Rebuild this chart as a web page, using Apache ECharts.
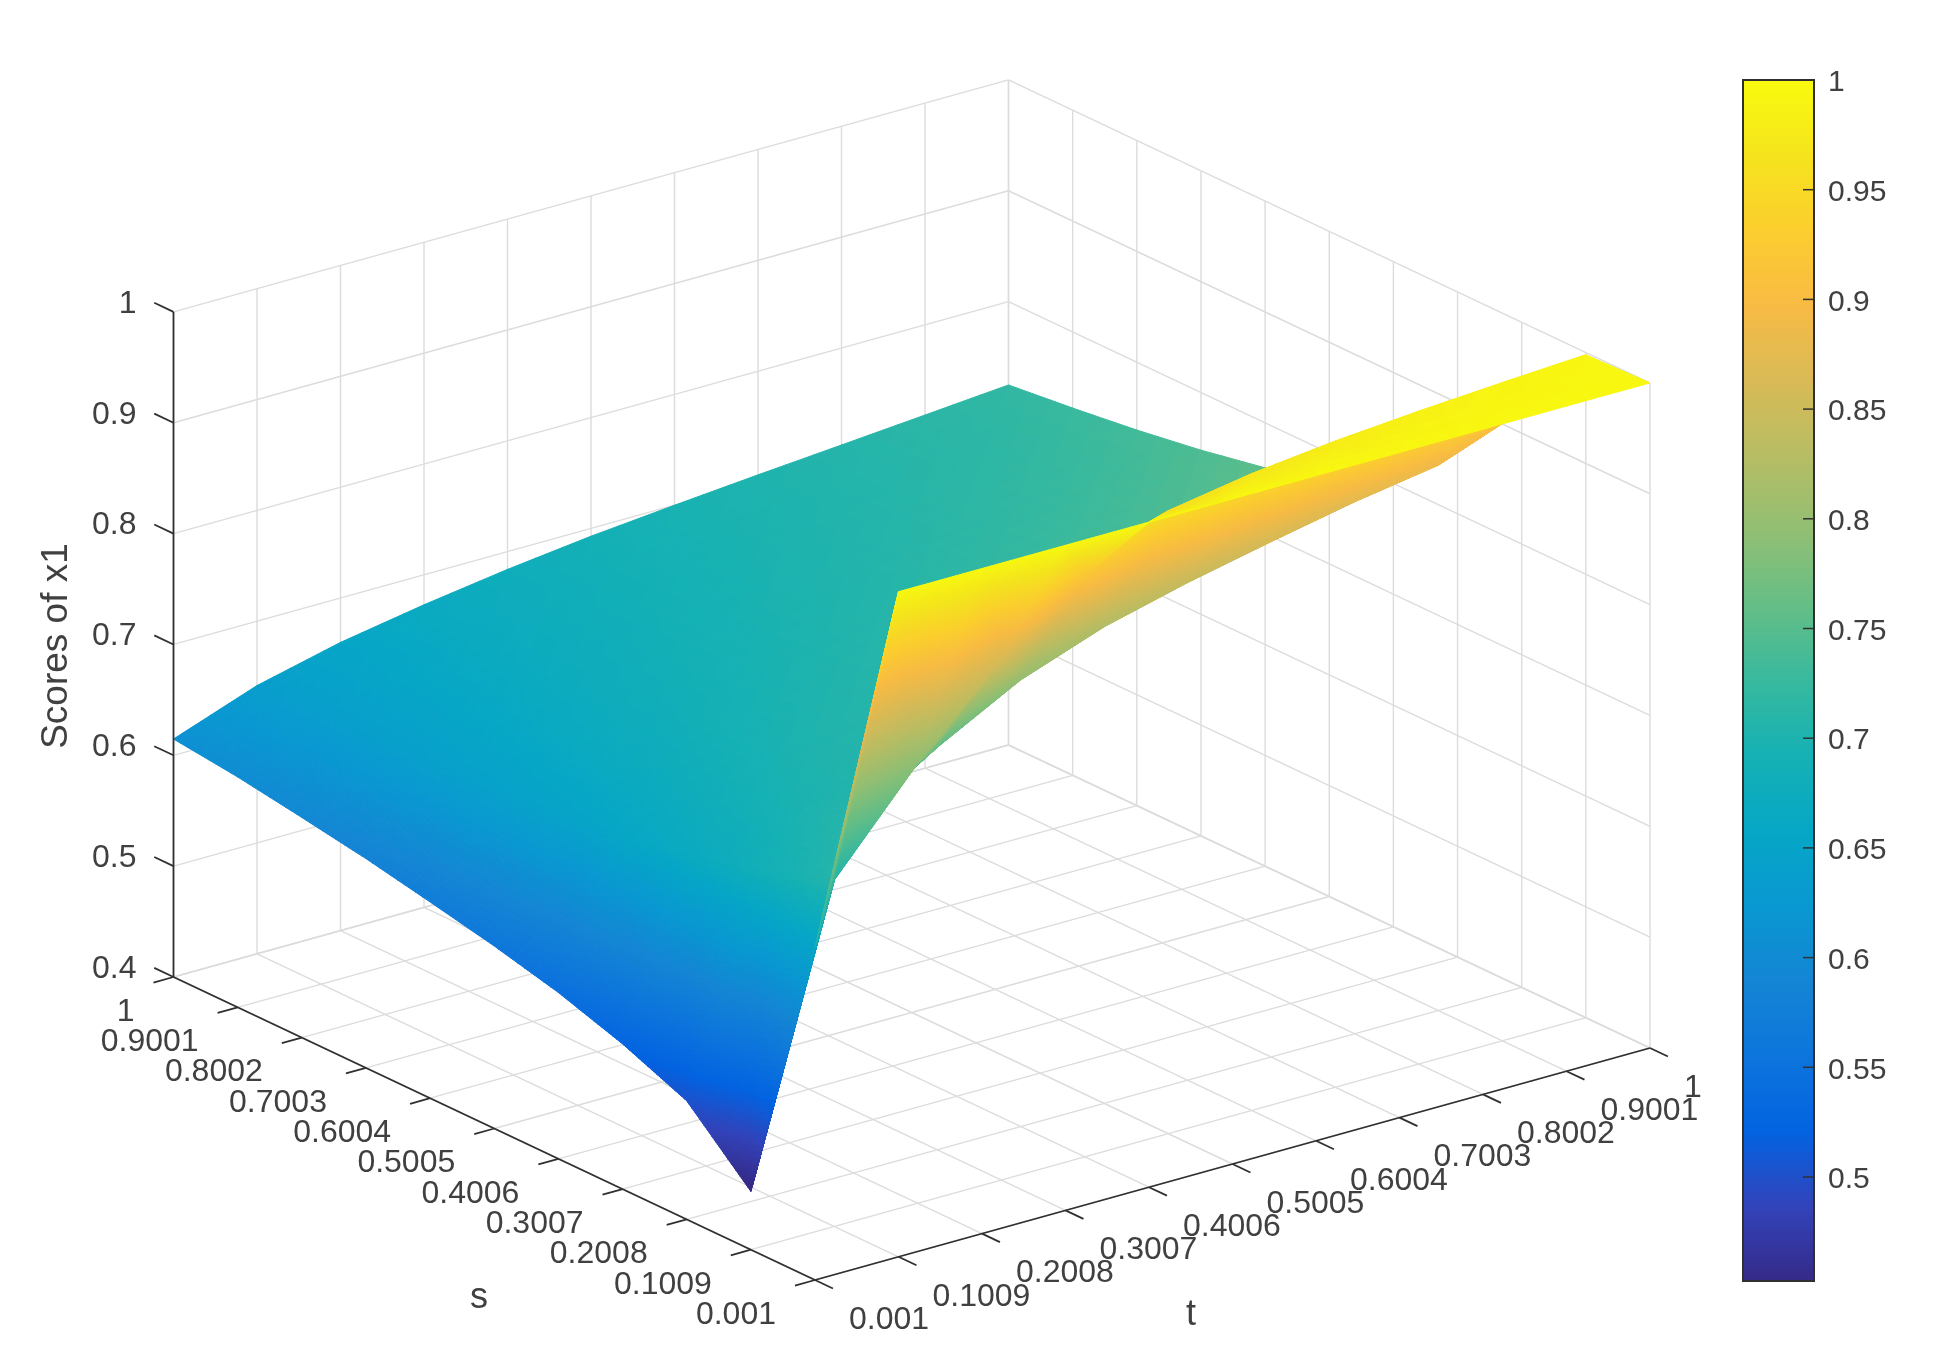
<!DOCTYPE html>
<html>
<head>
<meta charset="utf-8">
<style>
    html, body { margin: 0; padding: 0; background: #fff; }
    #chart { width: 1954px; height: 1370px; }
</style>
<script src="https://cdn.jsdelivr.net/npm/echarts@6/dist/echarts.min.js"></script>
</head>
<body>
<div id="chart"></div>
<script>
const sLabels = ['0.001', '0.1009', '0.2008', '0.3007', '0.4006', '0.5005', '0.6004', '0.7003', '0.8002', '0.9001', '1']
const tLabels = ['0.001', '0.1009', '0.2008', '0.3007', '0.4006', '0.5005', '0.6004', '0.7003', '0.8002', '0.9001', '1']
const zTicks = [0.4, 0.5, 0.6, 0.7, 0.8, 0.9, 1]
const barTicks = [0.5, 0.55, 0.6, 0.65, 0.7, 0.75, 0.8, 0.85, 0.9, 0.95, 1]

// scores, one row per s tick, t runs along the row
const scoresS00 = [0.70, 1.0, 1.0, 1.0, 1.0, 1.0, 1.0, 1.0, 1.0, 1.0, 1.0]
const scoresS01 = [0.4526, 0.7126, 0.797, 0.87, 0.925, 0.962, 0.9746, 0.983, 0.989, 0.9938, 0.998]
const scoresS02 = [0.507, 0.693, 0.716, 0.763, 0.803, 0.83, 0.849, 0.865, 0.88, 0.892, 0.92]
const scoresS03 = [0.531, 0.676, 0.70, 0.712, 0.743, 0.773, 0.80, 0.815, 0.83, 0.846, 0.857]
const scoresS04 = [0.55, 0.665, 0.69, 0.706, 0.715, 0.732, 0.75, 0.765, 0.778, 0.791, 0.802]
const scoresS05 = [0.5646, 0.656, 0.68, 0.697, 0.708, 0.717, 0.73, 0.742, 0.752, 0.762, 0.772]
const scoresS06 = [0.577, 0.652, 0.675, 0.69, 0.70, 0.709, 0.718, 0.728, 0.737, 0.748, 0.7594]
const scoresS07 = [0.5888, 0.648, 0.669, 0.684, 0.695, 0.703, 0.71, 0.719, 0.727, 0.737, 0.748]
const scoresS08 = [0.5986, 0.645, 0.665, 0.679, 0.69, 0.698, 0.706, 0.712, 0.72, 0.728, 0.7388]
const scoresS09 = [0.6078, 0.643, 0.662, 0.676, 0.686, 0.695, 0.702, 0.708, 0.714, 0.72, 0.7313]
const scoresS10 = [0.6147, 0.642, 0.66, 0.673, 0.684, 0.693, 0.70, 0.7065, 0.7125, 0.7186, 0.7248]
const scores = [scoresS00, scoresS01, scoresS02, scoresS03, scoresS04, scoresS05, scoresS06, scoresS07, scoresS08, scoresS09, scoresS10]

const parula = ['#352a87', '#3243ba', '#0363e1', '#0d75dc', '#1485d4', '#0998d1', '#06a7c6', '#15b1b4', '#38b99e',
    '#65be86', '#92bf73', '#b7bd64', '#d9ba56', '#f8bb44', '#fcce2e', '#f5e41d', '#f9fb0e']
const colorMin = 0.4526
const colorMax = 1

const textColor = '#404040'
const axisColor = '#303030'
const gridColor = '#dcdcdc'
const last = sLabels.length - 1

// orthographic view: s/t steps per tick and z scale, in the hidden plane axes
const project = (si, ti, z) => [
    815 - 64.15 * si + 83.5 * ti,
    1280 - 30.3 * si - 23.2 * ti - 1108.5 * (z - 0.4)
]
// the surface picks from 64 discrete colours rounding down, hence the small shift
const colorOf = z => echarts.color.lerp(Math.min(1, Math.max(0, (z - 0.005 - colorMin) / (colorMax - colorMin))), parula)

const wallLines = []
const floorZ = zTicks[0]
const topZ = zTicks[zTicks.length - 1]
zTicks.forEach(z => {
    wallLines.push([last, 0, z, last, last, z])
    wallLines.push([0, last, z, last, last, z])
})
for (let k = 0; k <= last; k++) {
    wallLines.push([last, k, floorZ, last, k, topZ])
    wallLines.push([k, last, floorZ, k, last, topZ])
    wallLines.push([k, 0, floorZ, k, last, floorZ])
    wallLines.push([0, k, floorZ, last, k, floorZ])
}

const axisLines = [
    [last, 0, floorZ, last, 0, topZ],
    [last, 0, floorZ, 0, 0, floorZ],
    [0, 0, floorZ, 0, last, floorZ]
]
zTicks.forEach(z => axisLines.push([last, 0, z, last + 0.3, 0, z]))
for (let k = 0; k <= last; k++) {
    axisLines.push([k, 0, floorZ, k, -0.24, floorZ])
    axisLines.push([0, k, floorZ, -0.28, k, floorZ])
}

const quads = []
for (let i = last - 1; i >= 0; i--) {
    for (let j = last - 1; j >= 0; j--) {
        quads.push([i, j])
    }
}

const tickTexts = []
sLabels.forEach((text, k) => tickTexts.push([k, 0, floorZ, -39, 35, 'right', text]))
tLabels.forEach((text, k) => tickTexts.push([0, k, floorZ, 34, 40, 'left', text]))
zTicks.forEach(z => tickTexts.push([last, 0, z, -37, -8, 'right', String(z)]))

const renderLine = style => (params, api) => {
    const a = api.coord(project(api.value(0), api.value(1), api.value(2)))
    const b = api.coord(project(api.value(3), api.value(4), api.value(5)))
    return {
        type: 'line',
        shape: { x1: a[0], y1: a[1], x2: b[0], y2: b[1] },
        style: style
    }
}

// one flat triangle of the surface, split small enough for a smooth colour ramp
const triangleCells = (api, p0, p1, p2) => {
    const range = Math.max(p0[2], p1[2], p2[2]) - Math.min(p0[2], p1[2], p2[2])
    const n = Math.min(48, Math.max(3, Math.ceil(range / 0.004)))
    const at = (u, v) => [0, 1, 2].map(k => p0[k] + (p1[k] - p0[k]) * u / n + (p2[k] - p0[k]) * v / n)
    const out = []
    const push = pts => {
        const mid = (pts[0][2] + pts[1][2] + pts[2][2]) / 3
        const color = colorOf(mid)
        out.push({
            type: 'polygon',
            shape: { points: pts.map(p => api.coord(project(p[0], p[1], p[2]))) },
            style: { fill: color, stroke: color, lineWidth: 1 }
        })
    }
    for (let u = 0; u < n; u++) {
        for (let v = 0; v < n - u; v++) {
            push([at(u, v), at(u + 1, v), at(u, v + 1)])
            if (u + v < n - 1) {
                push([at(u + 1, v), at(u + 1, v + 1), at(u, v + 1)])
            }
        }
    }
    return out
}

const renderQuad = (params, api) => {
    const i = api.value(0)
    const j = api.value(1)
    const a = [i, j, scores[i][j]]
    const b = [i + 1, j, scores[i + 1][j]]
    const c = [i + 1, j + 1, scores[i + 1][j + 1]]
    const d = [i, j + 1, scores[i][j + 1]]
    return {
        type: 'group',
        children: triangleCells(api, a, b, c).concat(triangleCells(api, a, d, c))
    }
}

const renderTickText = (params, api) => {
    const item = tickTexts[params.dataIndex]
    const p = api.coord(project(item[0], item[1], item[2]))
    return {
        type: 'text',
        style: {
            x: p[0] + item[3],
            y: p[1] + item[4],
            text: item[6],
            align: item[5],
            verticalAlign: 'middle',
            fill: textColor,
            font: '32px "Liberation Sans"'
        }
    }
}

const renderColorBar = (params, api) => {
    const a = api.coord([0, colorMax])
    const b = api.coord([1, colorMin])
    const marks = []
    barTicks.forEach(value => {
        const p = api.coord([1, value])
        if (value < colorMax) {
            marks.push({
                type: 'line',
                shape: { x1: p[0] - 11, y1: p[1], x2: p[0], y2: p[1] },
                style: { stroke: axisColor, lineWidth: 1.5 }
            })
        }
        marks.push({
            type: 'text',
            style: {
                x: p[0] + 14,
                y: p[1] + 3,
                text: String(value),
                align: 'left',
                verticalAlign: 'middle',
                fill: textColor,
                font: '30px "Liberation Sans"'
            }
        })
    })
    return {
        type: 'group',
        children: [{
            type: 'rect',
            shape: { x: a[0], y: a[1], width: b[0] - a[0], height: b[1] - a[1] },
            style: {
                fill: new echarts.graphic.LinearGradient(0, 1, 0, 0, parula.map((color, k) => ({
                    offset: k / (parula.length - 1),
                    color: color
                }))),
                stroke: axisColor,
                lineWidth: 2
            }
        }].concat(marks)
    }
}

const chart = echarts.init(document.getElementById('chart'))
chart.setOption({
    animation: false,
    backgroundColor: '#fff',
    grid: [
        { left: 0, top: 0, width: 1954, height: 1370 },
        { left: 1743, top: 80, width: 71, height: 1201 }
    ],
    xAxis: [
        { type: 'value', gridIndex: 0, min: 0, max: 1954, show: false },
        { type: 'value', gridIndex: 1, min: 0, max: 1, show: false }
    ],
    yAxis: [
        { type: 'value', gridIndex: 0, min: 0, max: 1370, inverse: true, show: false },
        { type: 'value', gridIndex: 1, min: colorMin, max: colorMax, show: false }
    ],
    graphic: [
        { type: 'text', x: 57, y: 646, rotation: Math.PI / 2, style: { text: 'Scores of x1', align: 'center', verticalAlign: 'middle', fill: textColor, font: '37px "Liberation Sans"' } },
        { type: 'text', x: 479, y: 1298, style: { text: 's', align: 'center', verticalAlign: 'middle', fill: textColor, font: '36px "Liberation Sans"' } },
        { type: 'text', x: 1191, y: 1315, style: { text: 't', align: 'center', verticalAlign: 'middle', fill: textColor, font: '36px "Liberation Sans"' } }
    ],
    series: [
        {
            type: 'custom',
            name: 'walls',
            xAxisIndex: 0,
            yAxisIndex: 0,
            silent: true,
            clip: false,
            progressive: 0,
            z: 1,
            data: wallLines,
            renderItem: renderLine({ stroke: gridColor, lineWidth: 1.4 })
        },
        {
            type: 'custom',
            name: 'surface',
            xAxisIndex: 0,
            yAxisIndex: 0,
            silent: true,
            clip: false,
            progressive: 0,
            z: 2,
            data: quads,
            renderItem: renderQuad
        },
        {
            type: 'custom',
            name: 'axes',
            xAxisIndex: 0,
            yAxisIndex: 0,
            silent: true,
            clip: false,
            progressive: 0,
            z: 3,
            data: axisLines,
            renderItem: renderLine({ stroke: axisColor, lineWidth: 1.8 })
        },
        {
            type: 'custom',
            name: 'tick labels',
            xAxisIndex: 0,
            yAxisIndex: 0,
            silent: true,
            clip: false,
            progressive: 0,
            z: 4,
            data: tickTexts.map(item => [item[0], item[1], item[2]]),
            renderItem: renderTickText
        },
        {
            type: 'custom',
            name: 'color bar',
            xAxisIndex: 1,
            yAxisIndex: 1,
            silent: true,
            clip: false,
            z: 2,
            data: [[0, colorMin]],
            renderItem: renderColorBar
        }
    ]
})
</script>
</body>
</html>
